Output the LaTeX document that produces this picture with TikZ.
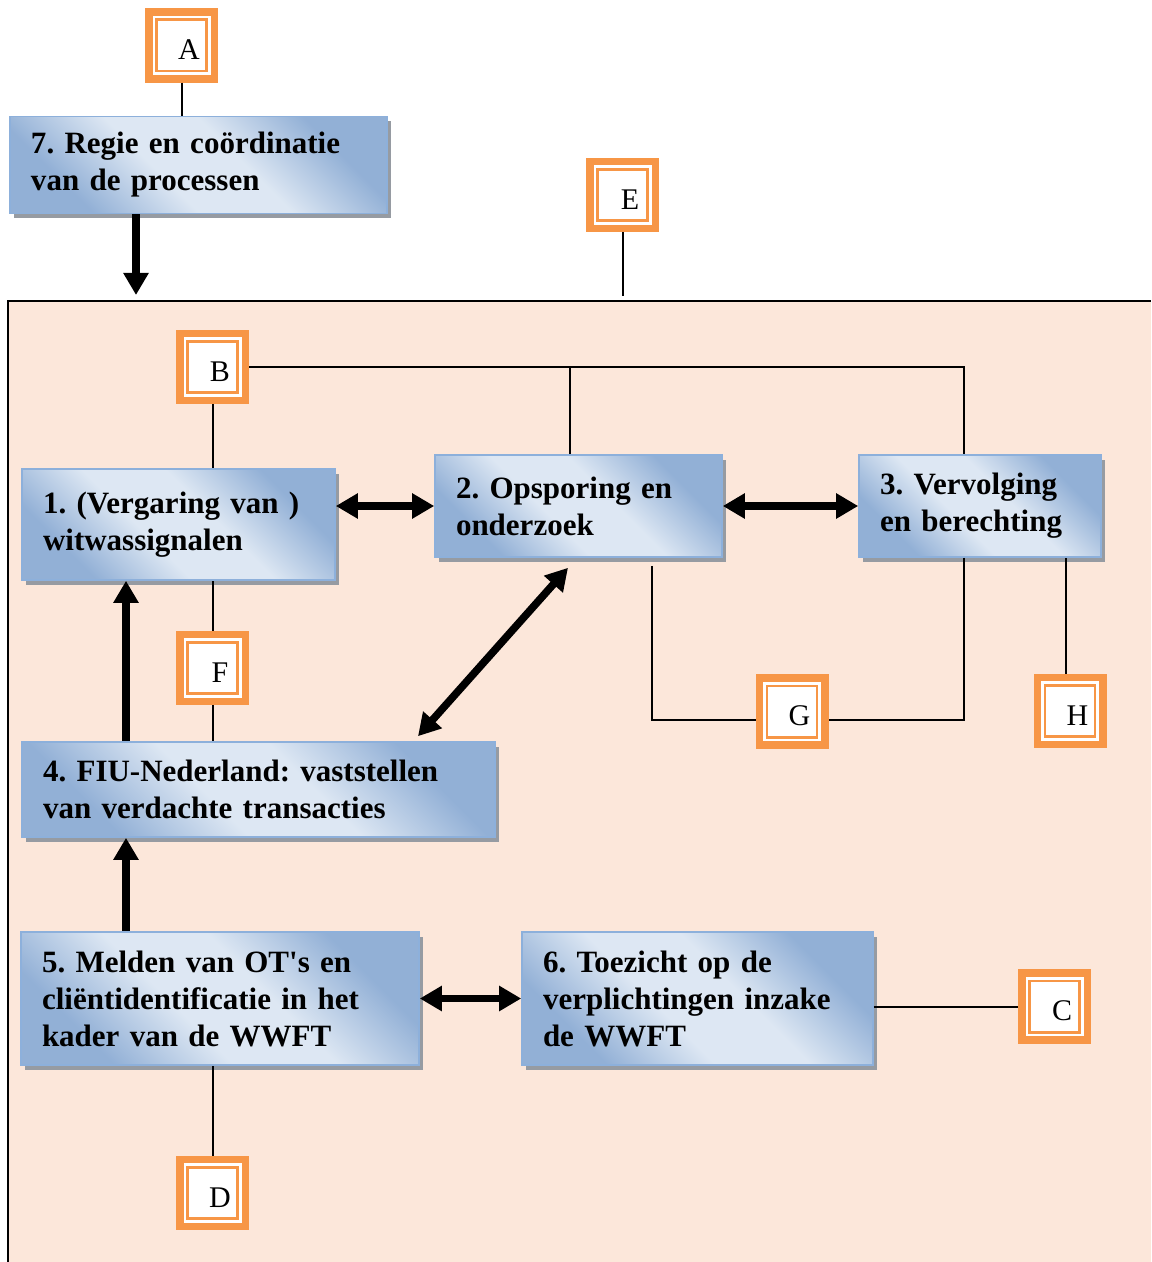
\documentclass[tikz,border=0pt]{standalone}
\usepackage{fontspec}
\setmainfont{Liberation Serif}
\usetikzlibrary{arrows.meta,shadows}
\frenchspacing

\definecolor{peach}{RGB}{252,231,218}
\definecolor{lorange}{RGB}{247,150,70}
\definecolor{bdark}{RGB}{146,176,214}
\definecolor{blight}{RGB}{221,231,243}
\definecolor{bedge}{RGB}{141,176,219}
\definecolor{sgray}{RGB}{150,155,162}

\pgfdeclareverticalshading{boxshade}{100bp}{color(0bp)=(bdark); color(27bp)=(bdark);
  color(43bp)=(blight); color(57bp)=(blight); color(73bp)=(bdark); color(100bp)=(bdark)}

\tikzset{
  procbox/.style={draw=bedge, line width=0.8pt,
    shading=boxshade, shading angle=-45,
    drop shadow={shadow xshift=2pt, shadow yshift=-2.5pt, fill=sgray, opacity=1},
    align=left, inner xsep=10.5pt, inner ysep=0pt,
    font=\bfseries\fontsize{15.5}{18.5}\selectfont},
  letterbox/.style={draw=lorange, line width=3.75pt, fill=white,
    minimum width=32.75pt, minimum height=33.5pt, inner sep=0pt,
    text height=14.2pt, text depth=0pt, font=\fontsize{15}{17}\selectfont,
    path picture={\draw[lorange, line width=1.3pt]
      ([shift={(3.9pt,3.9pt)}]path picture bounding box.south west) rectangle
      ([shift={(-3.9pt,-3.9pt)}]path picture bounding box.north east);}},
  link/.style={line width=1pt},
  fatarrow/.style={line width=3.8pt, -{Triangle[width=12pt,length=11pt]}},
  dblarrow/.style={line width=3.8pt,
    {Triangle[width=12pt,length=11pt]}-{Triangle[width=12pt,length=11pt]}}
}

\begin{document}
\begin{tikzpicture}[x=0.5pt, y=-0.5pt]
  \useasboundingbox (0,0) rectangle (1151,1262);

  % Area of the chain
  \fill[peach] (8,301) rectangle (1151,1262);
  \draw[line width=1.3pt] (8,1262) -- (8,301) -- (1151,301);

  % Process boxes
  \node[procbox, text width=167.5pt, minimum height=48.5pt] (box7) at (198.5,165)
    {7. Regie en coördinatie\\van de processen};
  \node[procbox, text width=135.5pt, minimum height=55.5pt] (box1) at (178.5,524.5)
    {1. (Vergaring van )\\witwassignalen};
  \node[procbox, text width=122.5pt, minimum height=51pt] (box2) at (578.5,506)
    {2. Opsporing en\\onderzoek};
  \node[procbox, text width=100pt, minimum height=51pt] (box3) at (980,506)
    {3. Vervolging\\en berechting};
  \node[procbox, text width=215.5pt, minimum height=47.5pt] (box4) at (258.5,789.5)
    {4. FIU-Nederland: vaststellen\\van verdachte transacties};
  \node[procbox, text width=178pt, minimum height=66.5pt] (box5) at (220,998.5)
    {5. Melden van OT\textquotesingle s en\\cliëntidentificatie in het\\kader van de WWFT};
  \node[procbox, text width=154.5pt, minimum height=66.5pt] (box6) at (697.5,998.5)
    {6. Toezicht op de\\verplichtingen inzake\\de WWFT};

  % Letter boxes
  \node[letterbox] (A) at (181.5,45.5) {\hspace*{7.5pt}A};
  \node[letterbox] (E) at (622.5,195) {\hspace*{7.5pt}E};
  \node[letterbox] (B) at (212.5,367) {\hspace*{7.5pt}B};
  \node[letterbox] (F) at (212.5,668) {\hspace*{7.5pt}F};
  \node[letterbox] (G) at (792,711.5) {\hspace*{7.5pt}G};
  \node[letterbox] (H) at (1070,711) {\hspace*{7.5pt}H};
  \node[letterbox] (C) at (1054.5,1006.5) {\hspace*{7.5pt}C};
  \node[letterbox] (D) at (212.5,1193) {\hspace*{7.5pt}D};

  % Free ends and arrow lanes
  \coordinate (Eend) at (622.5,296);
  \coordinate (inflow) at (136,295);
  \coordinate (upline) at (126,0);

  % Thin links
  \draw[link] (A.south) -- (A.south |- box7.north);
  \draw[link] (E.south) -- (Eend);
  \draw[link] (B.east) -| ([xshift=-8pt]box3.north);
  \draw[link] ([xshift=-4.25pt]box2.north) |- (B.east);
  \draw[link] (B.south) -- (B.south |- box1.north);
  \draw[link] (F.north) -- (F.north |- box1.south);
  \draw[link] (F.south) -- (F.south |- box4.north);
  \draw[link] ([xshift=36.75pt,yshift=-4pt]box2.south) |- ([yshift=-4.25pt]G.west);
  \draw[link] ([xshift=-8pt]box3.south) |- ([yshift=-4.25pt]G.east);
  \draw[link] ([xshift=-2pt]H.north) -- ([xshift=-2pt]H.north |- box3.south);
  \draw[link] (box6.east |- C.west) -- (C.west);
  \draw[link] (D.north) -- (D.north |- box5.south);

  % Thick arrows
  \draw[fatarrow] (inflow |- box7.south) -- (inflow);
  \draw[fatarrow] (upline |- box4.north) -- (upline |- box1.south);
  \draw[fatarrow] (upline |- box5.north) -- (upline |- box4.south);
  \draw[dblarrow] (box2.west -| box1.east) -- (box2.west);
  \draw[dblarrow] (box2.east) -- (box3.west);
  \draw[dblarrow] ([xshift=-5.25pt,yshift=-5pt]box2.south) -- ([xshift=79.75pt,yshift=2.5pt]box4.north);
  \draw[dblarrow] (box5.east) -- (box6.west);
\end{tikzpicture}
\end{document}
